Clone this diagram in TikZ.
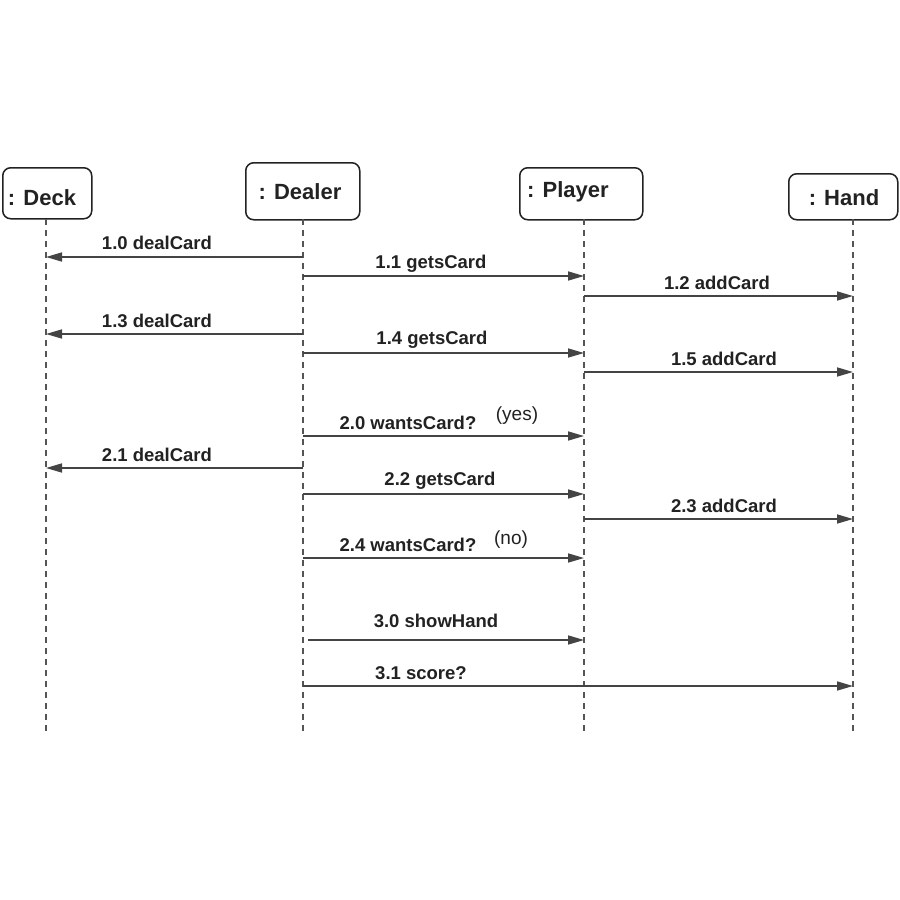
\documentclass[tikz,border=0pt]{standalone}
\usepackage{fontspec}
\setmainfont{Liberation Sans}
\usetikzlibrary{arrows.meta}
\definecolor{ink}{HTML}{222222}
\definecolor{arr}{HTML}{444444}
\definecolor{life}{HTML}{555555}
\tikzset{
  obj/.style={draw=ink, line width=1.5pt, rounded corners=8pt, inner sep=0pt, anchor=north west},
  objtext/.style={text=ink, font=\fontsize{22}{25}\selectfont\bfseries, inner sep=0pt},
  lifeline/.style={draw=life, line width=1.5pt, dash pattern=on 6pt off 5pt},
  msg/.style={draw=arr, line width=1.6pt, -{Triangle[length=16pt,width=9pt]}},
  lbl/.style={font=\fontsize{18.5}{21}\selectfont\bfseries, text=ink, inner sep=0pt},
  note/.style={font=\fontsize{19}{22}\selectfont, text=ink, inner sep=0pt}
}
\begin{document}
\begin{tikzpicture}[x=1pt,y=-1pt]
\useasboundingbox[fill=white] (0,0) rectangle (900,900);
% objects
\node[obj, minimum width=89pt, minimum height=51pt] (deck) at (2,167) {};
\node[objtext] (deckt) at (42,198) {: Deck};
\node[obj, minimum width=114pt, minimum height=57pt] (dealer) at (245,162) {};
\node[objtext] (dealert) at (300,192) {: Dealer};
\node[obj, minimum width=123pt, minimum height=52pt] (player) at (519,167) {};
\node[objtext] (playert) at (568,192) {: Player};
\node[obj, minimum width=109pt, minimum height=46pt] (hand) at (788,173) {};
\node[objtext] (handt) at (844,198) {: Hand};
% lifeline ends
\coordinate (deckE) at (46,732);
\coordinate (dealerE) at (303,732);
\coordinate (playerE) at (584,732);
\coordinate (handE) at (853,732);
\coordinate (deckS) at (46,219);
\coordinate (dealerS) at (303,219);
\coordinate (playerS) at (584,219);
\coordinate (handS) at (853,219);
\draw[lifeline] (deckS) -- (deckE);
\draw[lifeline] (dealerS) -- (dealerE);
\draw[lifeline] (playerS) -- (playerE);
\draw[lifeline] (handS) -- (handE);
% message levels
\foreach \n/\y in {a/257,b/276,c/296,d/334,e/353,f/372,g/436,h/468,i/494,j/519,k/558,l/640,m/686}
  \coordinate (y\n) at (0,\y);
\coordinate (sh) at (308,640);
% messages
\draw[msg] (dealerE |- ya) -- (deckE |- ya);
\draw[msg] (dealerE |- yb) -- (playerE |- yb);
\draw[msg] (playerE |- yc) -- (handE |- yc);
\draw[msg] (dealerE |- yd) -- (deckE |- yd);
\draw[msg] (dealerE |- ye) -- (playerE |- ye);
\draw[msg] (playerE |- yf) -- (handE |- yf);
\draw[msg] (dealerE |- yg) -- (playerE |- yg);
\draw[msg] (dealerE |- yh) -- (deckE |- yh);
\draw[msg] (dealerE |- yi) -- (playerE |- yi);
\draw[msg] (playerE |- yj) -- (handE |- yj);
\draw[msg] (dealerE |- yk) -- (playerE |- yk);
\draw[msg] (sh) -- (playerE |- yl);
\draw[msg] (dealerE |- ym) -- (handE |- ym);
% labels
\node[lbl] (la) at (157,243) {1.0 dealCard};
\node[lbl] (lb) at (431,264) {1.1 getsCard};
\node[lbl] (lc) at (717,283) {1.2 addCard};
\node[lbl] (ld) at (157,321) {1.3 dealCard};
\node[lbl] (le) at (432,340) {1.4 getsCard};
\node[lbl] (lf) at (724,359) {1.5 addCard};
\node[lbl] (lg) at (408,423) {2.0 wantsCard?};
\node[note] (ng) at (517,416) {(yes)};
\node[lbl] (lh) at (157,455) {2.1 dealCard};
\node[lbl] (li) at (440,481) {2.2 getsCard};
\node[lbl] (lj) at (724,506) {2.3 addCard};
\node[lbl] (lk) at (408,545) {2.4 wantsCard?};
\node[note] (nk) at (511,540) {(no)};
\node[lbl] (ll) at (436,621) {3.0 showHand};
\node[lbl] (lm) at (421,673) {3.1 score?};
\end{tikzpicture}
\end{document}
